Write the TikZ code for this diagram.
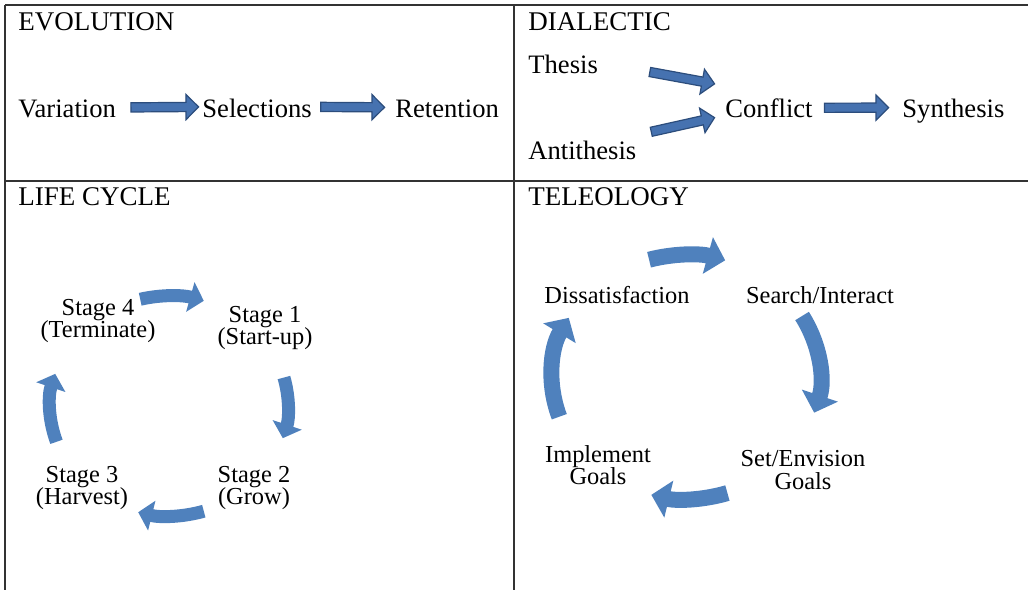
\documentclass[tikz,border=0pt]{standalone}
\usepackage{fontspec}
\setmainfont{Liberation Serif}
\usetikzlibrary{calc}
\usetikzlibrary{arrows.meta}
\usetikzlibrary{shapes.arrows}
\definecolor{BlockBlue}{RGB}{70,114,176}
\definecolor{BlockEdge}{RGB}{44,77,124}
\definecolor{CycleBlue}{RGB}{79,129,189}
\tikzstyle{head}=[inner sep=0pt,anchor=base west,font=\fontsize{13.5}{15}\selectfont]
\tikzstyle{txt}=[inner sep=0pt,anchor=base west,font=\fontsize{13.3}{15}\selectfont]
\tikzstyle{stage}=[inner sep=0pt,align=center,font=\fontsize{12.2}{11.3}\selectfont]
\tikzstyle{blk}=[single arrow,anchor=tail,fill=BlockBlue,draw=BlockEdge,line width=0.6pt,inner xsep=0pt,inner ysep=2pt,single arrow head extend=4pt,single arrow tip angle=90]
\tikzstyle{cycsmall}=[draw=CycleBlue,line width=6.5pt,-{Triangle[width=15pt,length=7pt]}]
\tikzstyle{cycbig}=[draw=CycleBlue,line width=8pt,-{Triangle[width=18.5pt,length=9pt]}]
\tikzstyle{rule}=[draw=black!80,line width=0.7pt]
\newcommand*{\blockarrow}[2]{
    \path let \p1=#1, \p2=#2, \n1={atan2(\y2-\y1,\x2-\x1)}, \n2={veclen(\x2-\x1,\y2-\y1)} in
        node [blk, rotate=\n1, minimum height=\n2] at (\p1) {};
}
\newcommand*{\cyclearc}[6]{
    \draw [#1] ([shift={(#3:#5 and #6)}]#2) arc [start angle=#3, end angle=#4, x radius=#5, y radius=#6];
}

\begin{document}
\begin{tikzpicture}[x=0.5pt,y=-0.5pt]
    \useasboundingbox (0,0) rectangle (1028,590);
    \draw [rule] (5,5) -- (1028,5);
    \draw [rule] (5,181) -- (1028,181);
    \draw [rule] (5,5) -- (5,590);
    \draw [rule] (514,5) -- (514,590);

    \node [head] (Evolution) at (18,30) {EVOLUTION};
    \node [head] (Dialectic) at (528,30) {DIALECTIC};
    \node [head] (LifeCycle) at (18,205) {LIFE CYCLE};
    \node [head] (Teleology) at (528,205) {TELEOLOGY};

    % evolution
    \node [txt] (Variation) at (18,117) {Variation};
    \node [txt] (Selections) at (202,117) {Selections};
    \node [txt] (Retention) at (395,117) {Retention};
    \blockarrow{($(Variation.east)+(14,-1)$)}{($(Selections.west)+(-4,-1)$)}
    \blockarrow{($(Selections.east)+(8,-1)$)}{($(Retention.west)+(-11,-1)$)}

    % dialectic
    \node [txt] (Thesis) at (528,73) {Thesis};
    \node [txt] (Antithesis) at (528,159) {Antithesis};
    \node [txt] (Conflict) at (725,117) {Conflict};
    \node [txt] (Synthesis) at (902,117) {Synthesis};
    \blockarrow{($(Thesis.east)+(51,8)$)}{($(Conflict.west)+(-11,-24)$)}
    \blockarrow{($(Antithesis.east)+(14,-18)$)}{($(Conflict.west)+(-11,10)$)}
    \blockarrow{($(Conflict.east)+(11,0)$)}{($(Synthesis.west)+(-14,-3)$)}

    % life cycle
    \coordinate (Life) at (169,406);
    \node [stage] (Stage4) at (98,321) {Stage 4\\(Terminate)};
    \node [stage] (Stage1) at (265,328) {Stage 1\\(Start-up)};
    \node [stage] (Stage2) at (254,488) {Stage 2\\(Grow)};
    \node [stage] (Stage3) at (82,488) {Stage 3\\(Harvest)};
    \cyclearc{cycsmall}{Life}{-104}{-73}{119}{110}
    \cyclearc{cycsmall}{Life}{-15}{17}{119}{110}
    \cyclearc{cycsmall}{Life}{73}{105}{119}{110}
    \cyclearc{cycsmall}{Life}{161}{197}{119}{110}

    % teleology
    \coordinate (Tele) at (686,377);
    \node [stage,anchor=base] (Dissatisfaction) at (617,303) {Dissatisfaction};
    \node [stage,anchor=base] (Search) at (820,303) {Search/Interact};
    \node [stage] (SetGoals) at (803,470) {Set/Envision\\Goals};
    \node [stage] (Implement) at (598,465) {Implement\\Goals};
    \cyclearc{cycbig}{Tele}{-106}{-73}{134}{122}
    \cyclearc{cycbig}{Tele}{-30}{17}{134}{122}
    \cyclearc{cycbig}{Tele}{72}{105}{134}{122}
    \cyclearc{cycbig}{Tele}{161}{209}{134}{122}
\end{tikzpicture}
\end{document}
